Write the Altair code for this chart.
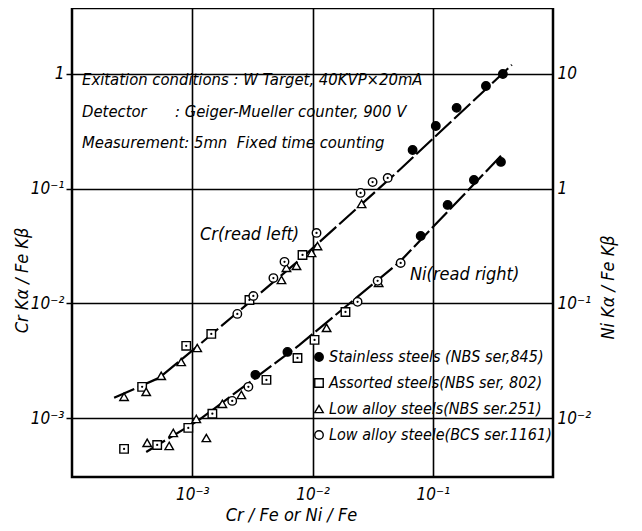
import altair as alt
import pandas as pd
import math

# ---------------- data ----------------
types = [
    "Stainless steels (NBS ser,845)",
    "Assorted steels(NBS ser, 802)",
    "Low alloy steels(NBS ser.251)",
    "Low alloy steele(BCS ser.1161)",
]
shapes = ["circle", "square", "triangle-up", "circle"]
fills = ["black", "white", "white", "white"]
strokes = ["black", "black", "black", "black"]

# Cr (read left axis)
cr_stainless_x = [0.068, 0.106, 0.158, 0.277, 0.383]
cr_stainless_y = [0.217, 0.352, 0.506, 0.785, 1.0]
cr_assorted_x = [0.000383, 0.000891, 0.00144, 0.00299, 0.00826]
cr_assorted_y = [0.00187, 0.00426, 0.00541, 0.0107, 0.0264]
cr_nbs_x = [0.000271, 0.000414, 0.000552, 0.000809, 0.00110, 0.00552, 0.00607, 0.00736, 0.00982, 0.0110, 0.0256]
cr_nbs_y = [0.00153, 0.00169, 0.00233, 0.00308, 0.00408, 0.0160, 0.0204, 0.0212, 0.0275, 0.0316, 0.0736]
cr_bcs_x = [0.00237, 0.00322, 0.00473, 0.00585, 0.0108, 0.0251, 0.0316, 0.0422]
cr_bcs_y = [0.00809, 0.0116, 0.0166, 0.0230, 0.0411, 0.0918, 0.114, 0.124]
cr_curve_x = [0.000224, 0.000531, 0.00114, 0.00780, 0.0531, 0.455]
cr_curve_y = [0.00150, 0.00224, 0.00434, 0.0239, 0.146, 1.20]

# Ni (read right axis)
ni_stainless_x = [0.00335, 0.00619, 0.0794, 0.133, 0.220, 0.369]
ni_stainless_y = [0.0238, 0.0377, 0.387, 0.721, 1.19, 1.71]
ni_assorted_x = [0.000271, 0.000511, 0.000927, 0.00147, 0.00414, 0.00750, 0.0104, 0.0188]
ni_assorted_y = [0.00538, 0.00582, 0.00820, 0.0109, 0.0215, 0.0334, 0.0480, 0.0841]
ni_nbs_x = [0.000422, 0.000643, 0.000695, 0.00108, 0.00131, 0.00178, 0.00256, 0.0131, 0.0355]
ni_nbs_y = [0.00607, 0.00571, 0.00741, 0.00982, 0.00670, 0.0133, 0.0159, 0.0611, 0.151]
ni_bcs_x = [0.00215, 0.00293, 0.0237, 0.0348, 0.0541]
ni_bcs_y = [0.0141, 0.0187, 0.103, 0.157, 0.225]
ni_curve_x = [0.000414, 0.00114, 0.00780, 0.0531, 0.383]
ni_curve_y = [0.00506, 0.00962, 0.0434, 0.230, 2.01]

x_ticks = [0.001, 0.01, 0.1]
x_labels = ["10⁻³", "10⁻²", "10⁻¹"]
left_ticks = [0.001, 0.01, 0.1, 1]
left_labels = ["10⁻³", "10⁻²", "10⁻¹", "1"]
right_ticks = [0.01, 0.1, 1, 10]
right_labels = ["10⁻²", "10⁻¹", "1", "10"]

x_domain = [0.0001, 1.0]
left_domain = [0.000306, 3.758]
right_domain = [0.00306, 37.58]

annotation_lines = [
    "Exitation conditions : W Target, 40KVP×20mA",
    "Detector\u00a0\u00a0\u00a0\u00a0\u00a0 : Geiger-Mueller counter, 900 V",
    "Measurement: 5mn\u00a0 Fixed time counting",
]

# ---------------- helpers ----------------
FONT = "Liberation Sans Narrow, DejaVu Sans Condensed, DejaVu Sans"


def label_expr(values, labels):
    expr = "''"
    for v, l in zip(values, labels):
        expr = f"abs(log(datum.value)/log(10) - ({math.log10(v)})) < 0.01 ? '{l}' : " + expr
    return expr


def frame(groups):
    rows = []
    for t, (xs, ys) in zip(types, groups):
        for a, b in zip(xs, ys):
            rows.append({"x": a, "y": b, "type": t})
    return pd.DataFrame(rows)


cr_df = frame([(cr_stainless_x, cr_stainless_y), (cr_assorted_x, cr_assorted_y),
               (cr_nbs_x, cr_nbs_y), (cr_bcs_x, cr_bcs_y)])
ni_df = frame([(ni_stainless_x, ni_stainless_y), (ni_assorted_x, ni_assorted_y),
               (ni_nbs_x, ni_nbs_y), (ni_bcs_x, ni_bcs_y)])
cr_curve = pd.DataFrame({"x": cr_curve_x, "y": cr_curve_y})
ni_curve = pd.DataFrame({"x": ni_curve_x, "y": ni_curve_y})

xscale = alt.Scale(type="log", domain=x_domain, nice=False)
lscale = alt.Scale(type="log", domain=left_domain, nice=False)
rscale = alt.Scale(type="log", domain=right_domain, nice=False)

x_axis = alt.Axis(values=x_ticks, labelExpr=label_expr(x_ticks, x_labels),
                  title="Cr / Fe  or  Ni / Fe", grid=True, ticks=False, domain=False,
                  labelPadding=9, titleX=219, titleY=38, titleBaseline="middle",
                  titleAnchor="start", titleAlign="center")
l_axis = alt.Axis(values=left_ticks, labelExpr=label_expr(left_ticks, left_labels),
                  title="Cr Kα / Fe Kβ", grid=True, ticks=True, tickSize=6, domain=False,
                  labelPadding=2, titleAngle=270, titleX=-50, titleY=272,
                  titleAlign="center", titleBaseline="middle")
r_axis = alt.Axis(values=right_ticks, labelExpr=label_expr(right_ticks, right_labels),
                  orient="right", title="Ni Kα / Fe Kβ", grid=False, ticks=False, domain=False,
                  labelPadding=4, titleAngle=270, titleX=55, titleY=279,
                  titleAlign="center", titleBaseline="middle")

legend = alt.Legend(orient="none", legendX=239, legendY=341, title=None)

shape_enc = alt.Shape("type:N", title=None, scale=alt.Scale(domain=types, range=shapes), legend=legend)
fill_enc = alt.Fill("type:N", title=None, scale=alt.Scale(domain=types, range=fills), legend=legend)
stroke_enc = alt.Stroke("type:N", title=None, scale=alt.Scale(domain=types, range=strokes), legend=legend)

dotted = [types[1], types[3]]


def group(df, curve, yscale, yaxis):
    line = alt.Chart(curve).mark_line(color="black", strokeWidth=2.2, strokeDash=[22, 4]).encode(
        x=alt.X("x:Q", scale=xscale, axis=x_axis),
        y=alt.Y("y:Q", scale=yscale, axis=yaxis),
    )
    pts = alt.Chart(df).mark_point(filled=True, strokeWidth=1.4, size=72, opacity=1).encode(
        x=alt.X("x:Q", scale=xscale),
        y=alt.Y("y:Q", scale=yscale),
        shape=shape_enc,
        fill=fill_enc,
        stroke=stroke_enc,
    )
    dots = alt.Chart(df).transform_filter(
        alt.FieldOneOfPredicate(field="type", oneOf=dotted)
    ).mark_circle(color="black", size=5, opacity=1).encode(
        x=alt.X("x:Q", scale=xscale),
        y=alt.Y("y:Q", scale=yscale),
    )
    return alt.layer(line, pts, dots)


left = group(cr_df, cr_curve, lscale, l_axis)
right = group(ni_df, ni_curve, rscale, r_axis)

one = alt.Data(values=[{}])
txt_style = dict(font=FONT, fontStyle="italic", fontSize=16.5, color="black", align="left", baseline="middle")
lab_style = dict(txt_style, fontSize=18)
notes = [
    alt.Chart(one).mark_text(**txt_style).encode(x=alt.value(10), y=alt.value(72 + 31.5 * i), text=alt.value(s))
    for i, s in enumerate(annotation_lines)
]
cr_label = alt.Chart(one).mark_text(**lab_style).encode(x=alt.value(128), y=alt.value(227), text=alt.value("Cr(read left)"))
ni_label = alt.Chart(one).mark_text(**lab_style).encode(x=alt.value(338), y=alt.value(267), text=alt.value("Ni(read right)"))

left_all = alt.layer(left, *notes, cr_label, ni_label)

chart = alt.layer(left_all, right).resolve_scale(y="independent").properties(
    width=481, height=469,
    autosize=alt.AutoSizeParams(type="none"),
    padding={"left": 64, "top": 0, "right": 80, "bottom": 52},
    background="white",
).configure_view(stroke="black", strokeWidth=2.5).configure_axis(
    labelFont=FONT, labelFontStyle="italic", labelFontSize=17, labelColor="black",
    titleFont=FONT, titleFontStyle="italic", titleFontSize=18, titleColor="black", titleFontWeight="normal",
    gridColor="black", gridWidth=1.6, gridOpacity=1, tickColor="black", tickWidth=1.5,
).configure_legend(
    labelFont=FONT, labelFontStyle="italic", labelFontSize=16, labelColor="black",
    symbolStrokeColor="black", symbolStrokeWidth=1.4, symbolSize=72, rowPadding=10,
    labelOffset=2, padding=0, labelLimit=400,
)

chart.save("out.html", embed_options={"renderer": "svg", "actions": False})
